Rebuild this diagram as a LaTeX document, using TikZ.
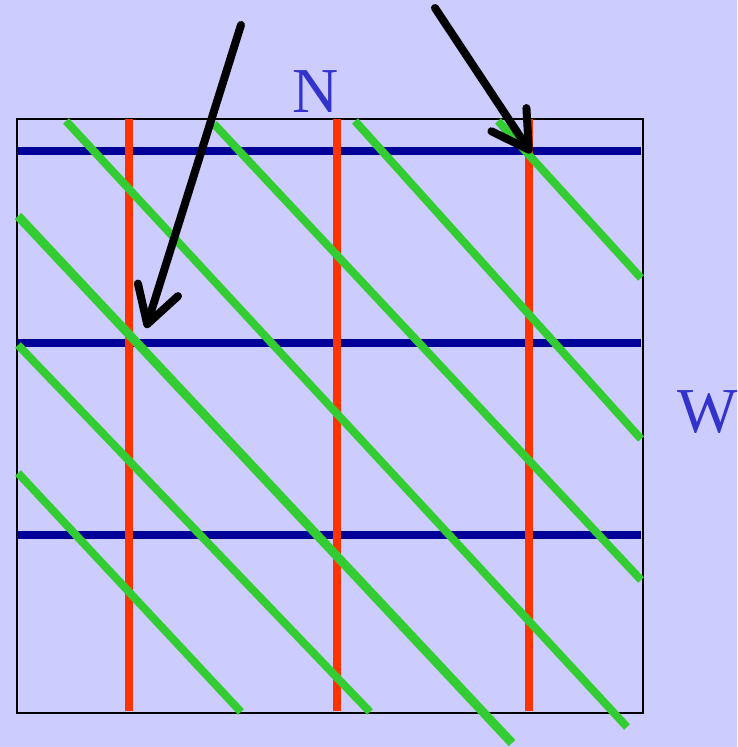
\documentclass[tikz,border=0pt]{standalone}
\usepackage{fontspec}
\setmainfont{Liberation Serif}
\usetikzlibrary{arrows.meta}
\definecolor{bg}{HTML}{CCCCFF}
\definecolor{hline}{HTML}{000099}
\definecolor{vline}{HTML}{FF3300}
\definecolor{gline}{HTML}{33CC33}
\definecolor{lbl}{HTML}{3333CC}
\tikzset{
  hl/.style={draw=hline, line width=4pt},
  vl/.style={draw=vline, line width=4pt},
  gl/.style={draw=gline, line width=4pt},
  ray/.style={draw=black, line width=4pt, line cap=round,
    -{Straight Barb[length=18pt, width=21pt, line cap=round, line join=round]}},
  lab/.style={text=lbl, font=\fontsize{32pt}{34pt}\selectfont, inner sep=0pt}
}
\begin{document}
\begin{tikzpicture}[x=0.5pt, y=-0.5pt]
\useasboundingbox (0,0) rectangle (737,747);
\fill[bg] (0,0) rectangle (737,747);
% frame
\draw[black, line width=1pt] (17,119) rectangle (643,713);
% horizontal lines
\foreach \y in {151,343,535} \draw[hl] (17,\y) -- (641,\y);
% vertical lines
\foreach \x in {129,337,529} \draw[vl] (\x,119) -- (\x,711);
% green diagonals
\draw[gl] (66,121) -- (627,727);
\draw[gl] (214,124) -- (641,580);
\draw[gl] (355,121) -- (641,439);
\draw[gl] (498,121) -- (641,278);
\draw[gl, line width=4.5pt] (18,216) -- (512,743);
\draw[gl] (18,345) -- (370,712);
\draw[gl] (18,473) -- (241,712);
% labels
\node[lab] (N) at (316,92) {N};
\node[lab] (W) at (708,412) {W};
% arrows
\coordinate (a1s) at (241,25);
\coordinate (a1e) at (146,328);
\coordinate (a2s) at (435,8);
\coordinate (a2e) at (531,153);
\draw[ray] (a1s) -- (a1e);
\draw[ray] (a2s) -- (a2e);
\end{tikzpicture}
\end{document}
